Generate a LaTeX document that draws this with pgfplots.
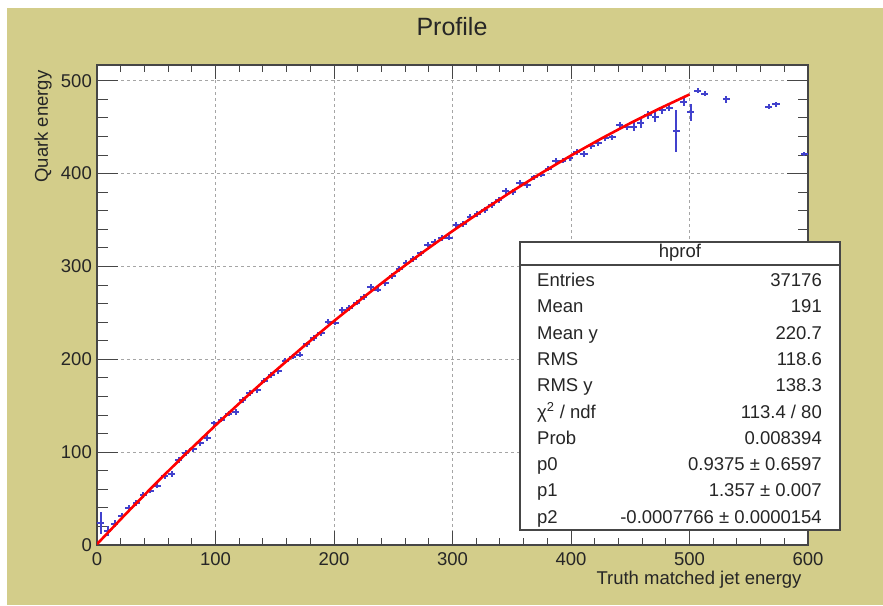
\documentclass[border=0pt]{standalone}
\usepackage{fontspec}
\setmainfont{Liberation Sans}
\usepackage{pgfplots}
\pgfplotsset{compat=1.18}
\usepackage{pgfplotstable}

\definecolor{canvas}{RGB}{211,205,138}
\definecolor{markblue}{RGB}{65,65,205}
\definecolor{framegray}{RGB}{70,70,70}
\definecolor{gridgray}{RGB}{165,165,165}

\newcommand\lbl{\fontsize{18.5}{22}\selectfont}

% profile bins: centre, mean, half bin width, error on the mean
\pgfplotstableread{
x y ex ey
3 24 3 12
9 15 3 5
15 23 3 3.5
21 31.5 3 3
27 40 3 3
33 45 3 3
39 54 3 3
45 58.5 3 3
51 64 3 3
57 74.5 3 3
63 76.5 3 3
69 91.5 3 3
75 99 3 3
81 103 3 3
87 110 3 3
93 115.5 3 3
99 131 3 3
105 135 3 3
111 141.5 3 3
117 143.5 3 3
123 156 3 3
129 164 3 3
135 166.5 3 3
141 177 3 3
147 183 3 3
153 187.5 3 3
159 198.5 3 3
165 203 3 3
171 205 3 3
177 216 3 3
183 223 3 3
189 228 3 3
195 240.5 3 3
201 239.5 3 3
207 253 3 3
213 255.5 3 3
219 261 3 3
225 267 3 3
231 278 3 3
237 275 3 3
243 282 3 3
249 290 3 3
255 297 3 3
261 303.5 3 3
267 308 3 3
273 314 3 3
279 323.5 3 3
285 326.5 3 3
291 330.5 3 3
297 331 3 3
303 344.5 3 3
309 346 3 3
315 353.5 3 3
321 356.5 3 3
327 361 3 3
333 366.5 3 3
339 371.5 3 3
345 381.5 3 3
351 380.5 3 3
357 390 3 3
363 388 3 3
369 396 3 3
375 399 3 3
381 405.5 3 3
387 413.5 3 3
393 414 3 3
399 417 3 3
405 423 3 3
411 421 3 3
417 429.5 3 3
423 433 3 3
429 438 3 3
435 439 3 3
441 452 3 3.5
447 450 3 3.5
453 450.5 3 5
459 454 3 5
465 463 3 4
471 461.5 3 6
477 468 3 4
483 471 3 4
489 446 3 23
495 477.5 3 5
501 466 3 9
507 489.5 3 2.5
513 486 3 2.5
531 480 3 4
567 472 3 2.5
573 474.5 3 2.5
597 421 3 2.5
}\profile

% pol2 fit evaluated on the fit range 0-500
\pgfplotstableread{
x y
0 0.94
25 34.38
50 66.85
75 98.34
100 128.87
125 158.43
150 187.01
175 214.63
200 241.27
225 266.95
250 291.65
275 315.38
300 338.14
325 359.93
350 380.76
375 400.60
400 419.48
425 437.39
450 454.33
475 470.29
500 485.29
}\fitcurve

\pgfplotsset{
  framecommon/.style={
    scale only axis, width=711pt, height=480pt,
    at={(97pt,60pt)}, anchor=south west,
    xmin=0, xmax=600, ymin=0, ymax=517,
    axis line style={framegray, line width=1.4pt},
    tick style={framegray, line width=1pt},
    tick label style={font=\lbl, text=black!85},
    /pgf/number format/assume math mode=true,
    tick align=inside, tick pos=both, ticklabel pos=left,
    major grid style={gridgray, line width=0.8pt, dash pattern=on 3pt off 3pt},
  },
}

\begin{document}
\begin{tikzpicture}[x=1pt,y=1pt]
\fill[white] (0,0) rectangle (883,605);
\fill[canvas] (7,0) rectangle (883,597);

% x ticks and vertical grid lines
\begin{axis}[framecommon,
    axis background/.style={fill=white},
    xtick={0,100,...,600}, minor x tick num=4, ytick=\empty,
    xmajorgrids,
    major tick length=14pt, minor tick length=7pt,
    xticklabel style={anchor=north, inner sep=0pt, yshift=-7pt}]
\end{axis}

% y ticks, horizontal grid lines, profile and fit
\begin{axis}[framecommon,
    ytick={0,100,...,500}, minor y tick num=4, xtick=\empty,
    ymajorgrids,
    major tick length=21pt, minor tick length=10.5pt,
    yticklabel style={anchor=east, inner sep=0pt, xshift=-5pt}]
\addplot[draw=none, mark=none,
    error bars/.cd, x dir=both, x explicit, y dir=both, y explicit,
    error mark=none,
    error bar style={markblue, line width=2pt}]
  table[x=x, y=y, x error=ex, y error=ey] {\profile};
\addplot[red, line width=2.6pt, line join=round] table[x=x, y=y] {\fitcurve};
\end{axis}

% titles
\node[font=\fontsize{25}{30}\selectfont, text=black!85] at (452,578) {Profile};
\node[font=\lbl, text=black!85, anchor=east] at (805,25) {Truth matched jet energy};
\node[font=\lbl, text=black!85, anchor=east, rotate=90] at (43,538) {Quark energy};

% statistics box
\fill[white] (520,75) rectangle (840,363);
\draw[framegray, line width=1.4pt] (520,75) rectangle (840,363);
\draw[framegray, line width=1.4pt] (520,340) -- (840,340);
\node[font=\lbl, text=black!85] at (680,352) {hprof};
\foreach \yy/\name/\val in {
    325/Entries/37176,
    298.7/Mean/191,
    272.4/Mean y/220.7,
    246.1/RMS/118.6,
    219.8/RMS y/138.3,
    193.5/{χ\textsuperscript{2} / ndf}/{113.4 / 80},
    167.2/Prob/0.008394,
    140.9/p0/{0.9375 ± 0.6597},
    114.6/p1/{1.357 ± 0.007},
    88.3/p2/{-0.0007766 ± 0.0000154}} {
  \node[font=\lbl, text=black!85, anchor=base west, inner sep=0pt] at (537,\yy-6.6) {\name};
  \node[font=\lbl, text=black!85, anchor=base east, inner sep=0pt] at (822,\yy-6.6) {\val};
}
\end{tikzpicture}
\end{document}
